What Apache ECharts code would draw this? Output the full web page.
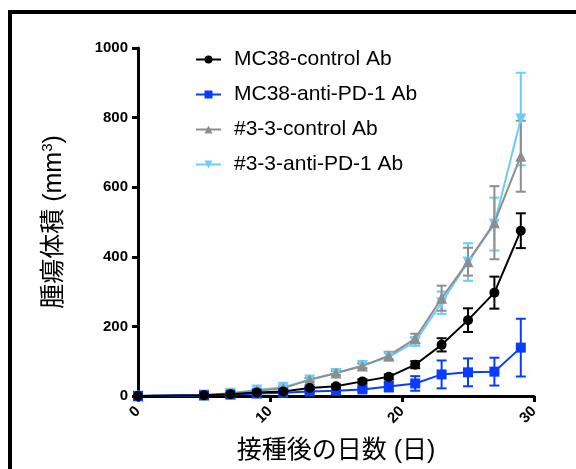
<!DOCTYPE html>
<html>
<head>
<meta charset="utf-8">
<script src="https://cdn.jsdelivr.net/npm/echarts@6/dist/echarts.min.js"></script>
<style>
  html, body { margin: 0; padding: 0; background: #fff; }
  #chart { width: 576px; height: 469px; }
</style>
</head>
<body>
<div id="chart"></div>
<script>
var days = [0, 5, 7, 9, 11, 13, 15, 17, 19, 21, 23, 25, 27, 29];

var mcCtrl    = [0, 2, 5, 10, 13, 23, 28, 42, 55, 90, 147, 218, 297, 475];
var mcCtrlErr = [0, 1, 2, 3, 3, 4, 5, 6, 7, 10, 19, 34, 46, 50];

var mcPd1     = [0, 2, 4, 7, 9, 13, 15, 19, 27, 36, 62, 68, 70, 139];
var mcPd1Err  = [0, 1, 2, 2, 3, 4, 4, 6, 14, 21, 40, 40, 40, 83];

var k33Ctrl    = [0, 3, 7, 15, 22, 47, 66, 86, 116, 165, 281, 386, 498, 689];
var k33CtrlErr = [0, 1, 2, 3, 4, 5, 6, 7, 11, 14, 36, 40, 105, 102];

var k33Pd1    = [0, 3, 8, 17, 25, 46, 65, 88, 112, 156, 268, 385, 494, 796];
var k33Pd1Err = [0, 1, 2, 4, 6, 6, 6, 7, 11, 12, 32, 54, 76, 133];

var names = ['MC38-control Ab', 'MC38-anti-PD-1 Ab', '#3-3-control Ab', '#3-3-anti-PD-1 Ab'];

var myChart = echarts.init(document.getElementById('chart'));

function pairs(ys) {
  return days.map(function (d, i) { return [d, ys[i]]; });
}
function triples(ys, es) {
  return days.map(function (d, i) { return [d, ys[i], es[i]]; });
}

// mean +/- error, with short caps
function errRender(color) {
  return function (params, api) {
    var x = api.value(0), m = api.value(1), e = api.value(2);
    if (!e) return;
    var top = api.coord([x, m + e]);
    var bot = api.coord([x, m - e]);
    var hw = 5;
    var st = { stroke: color, lineWidth: 2 };
    return {
      type: 'group',
      children: [
        { type: 'line', shape: { x1: top[0], y1: top[1], x2: bot[0], y2: bot[1] }, style: st },
        { type: 'line', shape: { x1: top[0] - hw, y1: top[1], x2: top[0] + hw, y2: top[1] }, style: st },
        { type: 'line', shape: { x1: bot[0] - hw, y1: bot[1], x2: bot[0] + hw, y2: bot[1] }, style: st }
      ]
    };
  };
}

function lineSeries(name, ys, color, symbol, size) {
  return {
    name: name,
    type: 'line',
    data: pairs(ys),
    symbol: symbol,
    symbolSize: size,
    showAllSymbol: true,
    lineStyle: { color: color, width: 2 },
    itemStyle: { color: color },
    emphasis: { disabled: true },
    animation: false
  };
}

function errSeries(ys, es, color) {
  return {
    type: 'custom',
    renderItem: errRender(color),
    data: triples(ys, es),
    clip: false,
    silent: true,
    animation: false
  };
}

var black = '#000000', blue = '#0a3cff', gray = '#8e8e8e', cyan = '#6ccdf7';
var titleFont = '"Liberation Sans", "Noto Sans CJK JP"';

var option = {
  animation: false,
  grid: { left: 138, right: 42, top: 48, bottom: 71 },
  graphic: [
    {
      type: 'rect',
      shape: { x: 10, y: 12, width: 620, height: 520 },
      style: { fill: 'none', stroke: '#000', lineWidth: 4 },
      silent: true
    }
  ],
  legend: {
    data: names,
    orient: 'vertical',
    left: 190,
    top: 44,
    itemWidth: 25,
    itemHeight: 10,
    itemGap: 14,
    textStyle: { fontSize: 21, lineHeight: 21, color: '#000', fontFamily: 'Liberation Sans', padding: [0, 0, 0, 8] }
  },
  xAxis: {
    type: 'value',
    min: 0,
    max: 30,
    interval: 10,
    name: '接種後の日数 (日)',
    nameLocation: 'middle',
    nameGap: 43,
    nameTextStyle: { fontSize: 25, color: '#000', fontFamily: titleFont },
    splitLine: { show: false },
    axisLine: { lineStyle: { color: '#000', width: 3 } },
    axisTick: { length: 6, lineStyle: { color: '#000', width: 3 } },
    axisLabel: { rotate: 45, margin: 13, fontSize: 15, fontWeight: 'bold', color: '#000', fontFamily: 'Liberation Sans' }
  },
  yAxis: {
    type: 'value',
    min: 0,
    max: 1000,
    interval: 200,
    name: '腫瘍体積 (mm{sup|3})',
    nameLocation: 'middle',
    nameGap: 70,
    nameTextStyle: {
      fontSize: 25, color: '#000', fontFamily: titleFont,
      rich: { sup: { fontSize: 15, verticalAlign: 'top', padding: [0, 0, 13, 0], color: '#000', fontFamily: 'Liberation Sans' } }
    },
    splitLine: { show: false },
    axisLine: { show: true, lineStyle: { color: '#000', width: 3 } },
    axisTick: { show: true, length: 6, lineStyle: { color: '#000', width: 3 } },
    axisLabel: {
      margin: 10, fontSize: 15, fontWeight: 'bold', color: '#000', fontFamily: 'Liberation Sans',
      formatter: function (v) { return String(v); }
    }
  },
  series: [
    errSeries(k33Pd1, k33Pd1Err, cyan),
    lineSeries(names[3], k33Pd1, cyan, 'path://M0,0 L10,0 L5,9 Z', 11),
    errSeries(k33Ctrl, k33CtrlErr, gray),
    lineSeries(names[2], k33Ctrl, gray, 'triangle', 11),
    errSeries(mcPd1, mcPd1Err, blue),
    lineSeries(names[1], mcPd1, blue, 'rect', 10),
    errSeries(mcCtrl, mcCtrlErr, black),
    lineSeries(names[0], mcCtrl, black, 'circle', 10)
  ]
};

myChart.setOption(option);
</script>
</body>
</html>
